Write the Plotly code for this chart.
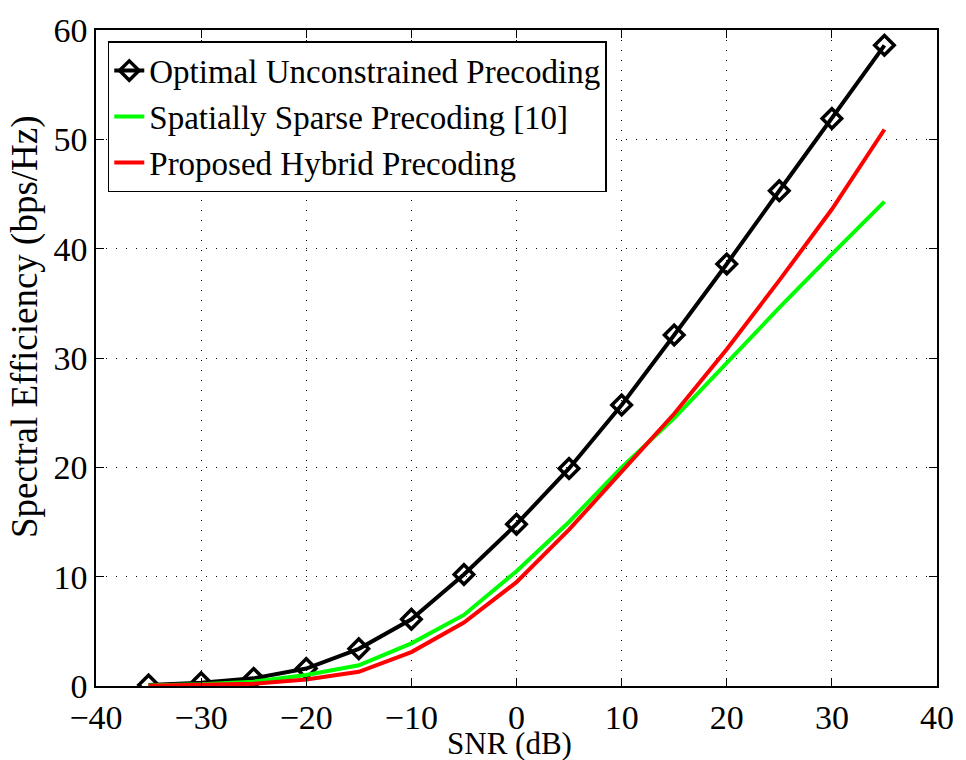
import plotly.graph_objects as go

snr = [-35, -30, -25, -20, -15, -10, -5, 0, 5, 10, 15, 20, 25, 30, 35]
optimal = [0.1, 0.3, 0.7, 1.6, 3.4, 6.1, 10.2, 14.8, 19.9, 25.7, 32.1, 38.6, 45.3, 51.9, 58.6]
sparse = [0.05, 0.15, 0.4, 1.0, 1.9, 3.9, 6.5, 10.5, 15.0, 20.0, 24.5, 29.6, 34.6, 39.5, 44.3]
hybrid = [0.02, 0.07, 0.2, 0.6, 1.3, 3.1, 5.8, 9.5, 14.3, 19.6, 24.9, 30.8, 37.1, 43.6, 50.9]

names = ["Optimal Unconstrained Precoding", "Spatially Sparse Precoding [10]", "Proposed Hybrid Precoding"]
x_ticks = [-40, -30, -20, -10, 0, 10, 20, 30, 40]
y_ticks = [0, 10, 20, 30, 40, 50, 60]
x_title = "SNR (dB)"
y_title = "Spectral Efficiency (bps/Hz)"

font = "Times New Roman, Liberation Serif, Times, serif"

fig = go.Figure()
fig.add_trace(go.Scatter(x=snr, y=optimal, name=names[0], mode="lines+markers",
                         line=dict(color="black", width=4),
                         marker=dict(symbol="diamond-open", size=15, color="black",
                                     line=dict(width=3.5, color="black"))))
fig.add_trace(go.Scatter(x=snr, y=sparse, name=names[1], mode="lines",
                         line=dict(color="#00ff00", width=4)))
fig.add_trace(go.Scatter(x=snr, y=hybrid, name=names[2], mode="lines",
                         line=dict(color="#ff0000", width=4)))

axis_common = dict(showline=True, linecolor="black", linewidth=1.5, mirror="allticks",
                   ticks="inside", ticklen=8, tickcolor="black", tickwidth=1,
                   showgrid=True, gridcolor="black", gridwidth=1, griddash="1px,9px",
                   zeroline=False, tickfont=dict(family=font, size=34, color="black"))

fig.update_xaxes(range=[-40, 40], tickvals=x_ticks,
                 ticktext=[("\u2212" + str(-v)) if v < 0 else str(v) for v in x_ticks],
                 **axis_common)
fig.update_yaxes(range=[0, 60], tickvals=y_ticks, **axis_common)

fig.add_annotation(text=x_title, xref="paper", yref="paper", x=0.492, y=-0.087,
                   xanchor="center", yanchor="middle", showarrow=False,
                   font=dict(family=font, size=31, color="black"))
fig.add_annotation(text=y_title, xref="paper", yref="paper", x=-0.085, y=0.548,
                   xanchor="center", yanchor="middle", showarrow=False, textangle=-90,
                   font=dict(family=font, size=37, color="black"))

fig.update_layout(
    width=966, height=760,
    margin=dict(l=96, r=20, t=22, b=74),
    paper_bgcolor="white", plot_bgcolor="white",
    showlegend=True,
    legend=dict(x=0.014, y=0.983, xanchor="left", yanchor="top",
                bgcolor="white", bordercolor="black", borderwidth=1.5,
                font=dict(family=font, size=33, color="black"),
                tracegroupgap=0),
)

fig.write_html("out.html")
